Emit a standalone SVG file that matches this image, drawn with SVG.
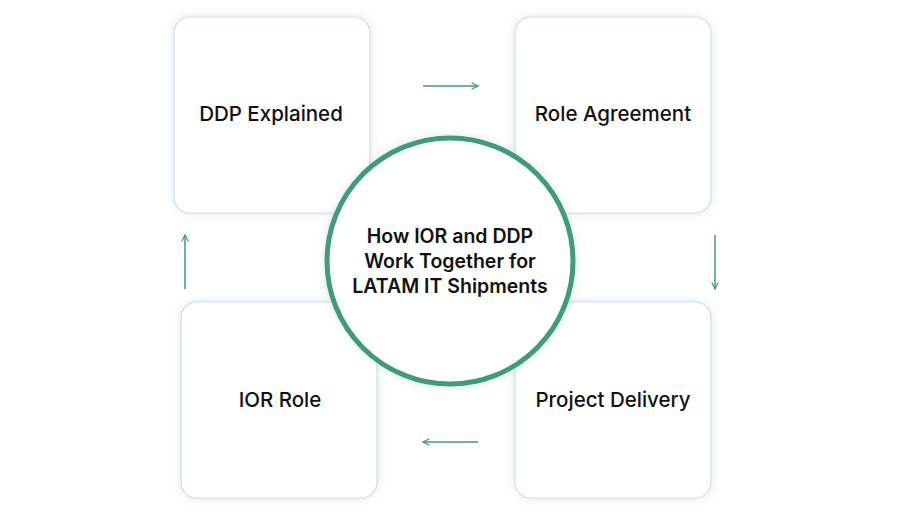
<svg xmlns="http://www.w3.org/2000/svg" width="900" height="514" viewBox="0 0 900 514">
<defs>
<style>
.box{fill:#fff;stroke:#cfe0e8;stroke-width:1.2}
.lbl{font-family:Inter,"Liberation Sans",sans-serif;font-size:20.5px;font-weight:500;fill:#111;text-anchor:middle}
.ctr{font-family:Inter,"Liberation Sans",sans-serif;font-size:19.5px;font-weight:600;fill:#111;text-anchor:middle}
.con{stroke:#3d9c7a;stroke-width:1.5;fill:none;marker-end:url(#ah)}
</style>
<marker id="ah" viewBox="0 0 10 10" refX="9" refY="5" markerWidth="8" markerHeight="8" markerUnits="userSpaceOnUse" orient="auto"><path d="M1,1 L9,5 L1,9" fill="none" stroke="#3d9c7a" stroke-width="1.5"/></marker>
<filter id="sh" x="-20%" y="-20%" width="140%" height="140%"><feDropShadow dx="0" dy="0" stdDeviation="4" flood-color="#9fb8c8" flood-opacity="0.35"/></filter>
</defs>
<rect width="900" height="514" fill="#fff"/>
<g id="n1"><rect class="box" filter="url(#sh)" x="174" y="17" width="196" height="196" rx="16"/><text class="lbl" x="271" y="121">DDP Explained</text></g>
<g id="n2"><rect class="box" filter="url(#sh)" x="515" y="17" width="196" height="196" rx="16"/><text class="lbl" x="613" y="121">Role Agreement</text></g>
<g id="n3"><rect class="box" filter="url(#sh)" x="515" y="302" width="196" height="196" rx="16"/><text class="lbl" x="613" y="407">Project Delivery</text></g>
<g id="n4"><rect class="box" filter="url(#sh)" x="181" y="302" width="196" height="196" rx="16"/><text class="lbl" x="280" y="407">IOR Role</text></g>
<g id="connectors">
<line class="con" x1="423" y1="86" x2="478" y2="86"/>
<line class="con" x1="715" y1="235" x2="715" y2="289"/>
<line class="con" x1="478" y1="442" x2="423" y2="442"/>
<line class="con" x1="185" y1="289" x2="185" y2="235"/>
</g>
<g id="center"><circle cx="450" cy="261" r="123" fill="#fff" stroke="#3d9c7a" stroke-width="5" filter="url(#sh)"/>
<text class="ctr" x="450" y="243">How IOR and DDP</text>
<text class="ctr" x="450" y="268">Work Together for</text>
<text class="ctr" x="450" y="293">LATAM IT Shipments</text></g>
</svg>
